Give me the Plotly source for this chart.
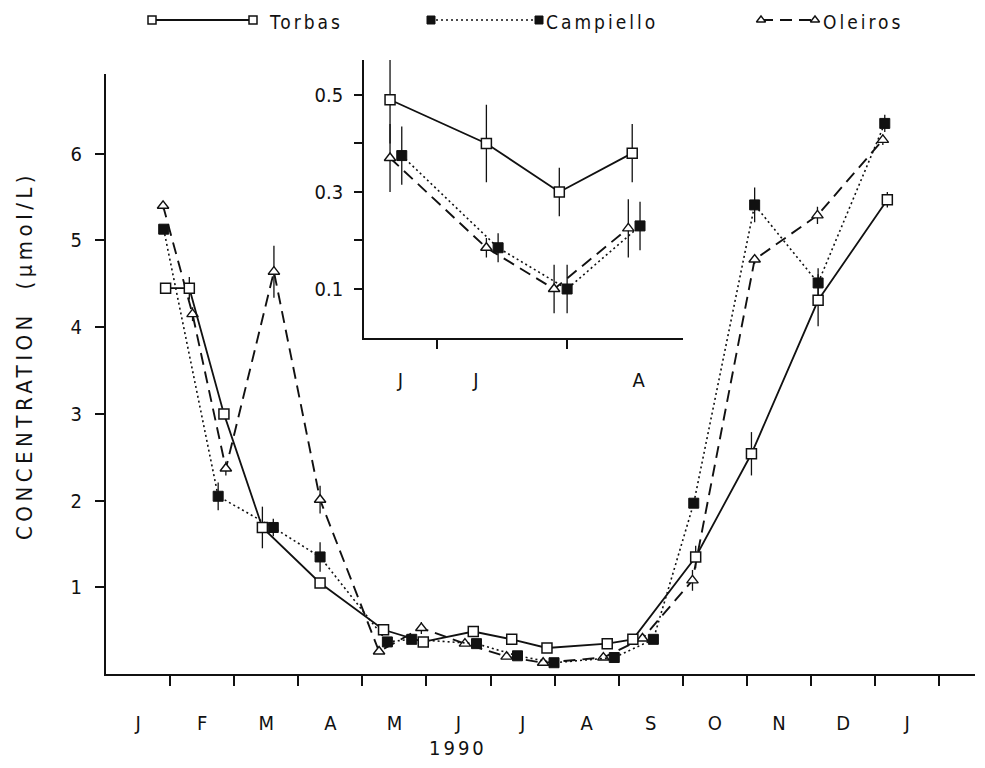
import plotly.graph_objects as go

# ---------------- data ----------------
month_labels = ["J", "F", "M", "A", "M", "J", "J", "A", "S", "O", "N", "D", "J"]
month_centers = [0.5 + i for i in range(13)]
month_bounds = [1 + i for i in range(13)]
y_ticks = [1, 2, 3, 4, 5, 6]

torbas_t = [0.93, 1.30, 1.84, 2.44, 3.34, 4.33, 4.95, 5.73, 6.33, 6.88, 7.82, 8.22, 9.20, 10.07, 11.11, 12.19]
torbas_v = [4.45, 4.45, 3.00, 1.69, 1.05, 0.51, 0.37, 0.49, 0.40, 0.30, 0.35, 0.40, 1.35, 2.54, 4.31, 5.47]
torbas_e = [0.04, 0.13, 0.05, 0.24, 0.05, 0, 0, 0, 0, 0, 0, 0, 0.13, 0.25, 0.30, 0.09]

campiello_t = [0.90, 1.75, 2.61, 3.34, 4.39, 4.77, 5.78, 6.42, 6.99, 7.93, 8.54, 9.17, 10.12, 11.11, 12.15]
campiello_v = [5.13, 2.05, 1.69, 1.35, 0.37, 0.40, 0.35, 0.21, 0.13, 0.19, 0.40, 1.97, 5.41, 4.51, 6.35]
campiello_e = [0.04, 0.16, 0.10, 0.17, 0.05, 0.04, 0, 0, 0, 0, 0, 0.05, 0.20, 0.17, 0.10]

oleiros_t = [0.89, 1.35, 1.87, 2.62, 3.34, 4.26, 4.92, 5.60, 6.25, 6.82, 7.76, 8.37, 9.15, 10.12, 11.10, 12.12]
oleiros_v = [5.40, 4.15, 2.37, 4.64, 2.01, 0.26, 0.53, 0.35, 0.20, 0.13, 0.19, 0.41, 1.08, 4.78, 5.29, 6.16]
oleiros_e = [0.04, 0.08, 0.08, 0.30, 0.16, 0, 0.07, 0, 0, 0, 0, 0, 0.12, 0.05, 0.10, 0.06]

# inset (summer detail)
inset_labels = ["J", "J", "A"]
inset_label_pos = [5.72, 6.30, 7.55]
inset_bounds = [6, 7]
inset_yticks = [0.1, 0.2, 0.3, 0.4, 0.5]
inset_ytext = ["0.1", "", "0.3", "", "0.5"]

in_torbas_t = [5.64, 6.38, 6.94, 7.50]
in_torbas_v = [0.49, 0.40, 0.30, 0.38]
in_torbas_e = [0.09, 0.08, 0.05, 0.06]

in_campiello_t = [5.73, 6.47, 7.00, 7.56]
in_campiello_v = [0.375, 0.185, 0.10, 0.23]
in_campiello_e = [0.06, 0.03, 0.05, 0.05]

in_oleiros_t = [5.64, 6.38, 6.90, 7.47]
in_oleiros_v = [0.37, 0.185, 0.10, 0.225]
in_oleiros_e = [0.07, 0.02, 0.05, 0.06]

# ---------------- styles / layout helpers ----------------
OFF = 8                      # default page margin of the html body
W, H = 985 - OFF, 768 - OFF  # figure size so that it fills the window exactly
FONT = "DejaVu Sans Condensed, DejaVu Sans, sans-serif"
BLACK = "#111111"


def spaced(text, px):
    return '<span style="letter-spacing:%spx">%s</span>' % (px, text)


def dom_x(a, b):  # window pixel -> paper fraction
    return [(a - OFF) / W, (b - OFF) / W]


def dom_y(top, bottom):
    return [1 - (bottom - OFF) / H, 1 - (top - OFF) / H]


styles = {
    "Torbas": dict(line=dict(color=BLACK, width=1.8, dash="solid"),
                   marker=dict(symbol="square", size=10, color="white",
                               line=dict(color=BLACK, width=1.5))),
    "Campiello": dict(line=dict(color=BLACK, width=1.6, dash="2px,3px"),
                      marker=dict(symbol="square", size=10, color=BLACK,
                                  line=dict(color=BLACK, width=1))),
    "Oleiros": dict(line=dict(color=BLACK, width=1.9, dash="12px,7px"),
                    marker=dict(symbol="triangle-up", size=10, color="white",
                                line=dict(color=BLACK, width=1.4))),
}

fig = go.Figure()

main_series = [
    ("Oleiros", oleiros_t, oleiros_v, oleiros_e),
    ("Campiello", campiello_t, campiello_v, campiello_e),
    ("Torbas", torbas_t, torbas_v, torbas_e),
]
for name, t, v, e in main_series:
    fig.add_trace(go.Scatter(
        x=t, y=v, mode="lines+markers", name=name, showlegend=False,
        error_y=dict(type="data", array=e, visible=True, width=0,
                     thickness=1.3, color=BLACK),
        xaxis="x", yaxis="y", cliponaxis=False, **styles[name]))

inset_series = [
    ("Oleiros", in_oleiros_t, in_oleiros_v, in_oleiros_e),
    ("Campiello", in_campiello_t, in_campiello_v, in_campiello_e),
    ("Torbas", in_torbas_t, in_torbas_v, in_torbas_e),
]
for name, t, v, e in inset_series:
    fig.add_trace(go.Scatter(
        x=t, y=v, mode="lines+markers", name=name, showlegend=False,
        error_y=dict(type="data", array=e, visible=True, width=0,
                     thickness=1.3, color=BLACK),
        xaxis="x2", yaxis="y2", cliponaxis=False, **styles[name]))

# ---------------- legend (drawn manually on an overlay axis in window pixels) ----------------
legend_items = [
    ("Torbas", 152, 253, 268),
    ("Campiello", 431, 539, 545),
    ("Oleiros", 761, 815, 822),
]
LEG_Y = 20
annotations = []
for name, x0, x1, xt in legend_items:
    fig.add_trace(go.Scatter(
        x=[x0, x1], y=[LEG_Y, LEG_Y], mode="lines+markers", showlegend=False,
        xaxis="x3", yaxis="y3", cliponaxis=False, hoverinfo="skip",
        line=styles[name]["line"],
        marker=dict(styles[name]["marker"], size=8)))
    annotations.append(dict(x=xt, y=LEG_Y + 1.5, xref="x3", yref="y3", text=spaced(name, 3),
                            showarrow=False, xanchor="left", yanchor="middle", borderpad=0,
                            font=dict(family=FONT, size=19, color=BLACK)))

# axis labels
annotations.append(dict(x=458, y=748, xref="x3", yref="y3",
                        text=spaced("1990", 3), showarrow=False, xanchor="center", yanchor="middle",
                        font=dict(family=FONT, size=20, color=BLACK)))
annotations.append(dict(x=24, y=356, xref="x3", yref="y3",
                        text=spaced("CONCENTRATION  (\u00b5mol/L)", 4.5), textangle=-90, showarrow=False,
                        xanchor="center", yanchor="middle",
                        font=dict(family=FONT, size=22, color=BLACK)))

axis_font = dict(family=FONT, size=20, color=BLACK)

fig.update_layout(
    width=W, height=H,
    margin=dict(l=0, r=0, t=0, b=0, autoexpand=False),
    paper_bgcolor="white", plot_bgcolor="rgba(0,0,0,0)",
    showlegend=False,
    annotations=annotations,
    xaxis=dict(domain=dom_x(106, 974.5), range=[0, 13.55], anchor="y",
               showline=True, linecolor=BLACK, linewidth=2, showgrid=False, zeroline=False,
               tickmode="array", tickvals=month_centers, ticktext=month_labels, ticks="",
               ticklabelstandoff=30, tickfont=axis_font,
               minor=dict(tickmode="array", tickvals=month_bounds, ticks="outside",
                          ticklen=10, tickwidth=1.5, tickcolor=BLACK, showgrid=False)),
    yaxis=dict(domain=dom_y(74, 674), range=[0, 6.92], anchor="x",
               showline=True, linecolor=BLACK, linewidth=2, showgrid=False, zeroline=False,
               tickmode="array", tickvals=y_ticks, ticks="outside",
               ticklen=9, tickwidth=1.5, tickcolor=BLACK, ticklabelstandoff=9,
               tickfont=axis_font),
    xaxis2=dict(domain=dom_x(364, 683), range=[5.44, 7.89], anchor="y2",
                showline=True, linecolor=BLACK, linewidth=1.8, showgrid=False, zeroline=False,
                tickmode="array", tickvals=inset_label_pos, ticktext=inset_labels, ticks="",
                ticklabelstandoff=24, tickfont=axis_font,
                minor=dict(tickmode="array", tickvals=inset_bounds, ticks="outside",
                           ticklen=10, tickwidth=1.5, tickcolor=BLACK, showgrid=False)),
    yaxis2=dict(domain=dom_y(60, 337.5), range=[0, 0.572], anchor="x2",
                showline=True, linecolor=BLACK, linewidth=1.8, showgrid=False, zeroline=False,
                tickmode="array", tickvals=inset_yticks, ticktext=inset_ytext, ticks="outside",
                ticklen=8, tickwidth=1.5, tickcolor=BLACK, ticklabelstandoff=7,
                tickfont=axis_font),
    xaxis3=dict(domain=[0, 1], range=[OFF, 985], anchor="y3", visible=False, fixedrange=True),
    yaxis3=dict(domain=[0, 1], range=[768, OFF], anchor="x3", visible=False, fixedrange=True),
)

fig.write_html("out.html")
